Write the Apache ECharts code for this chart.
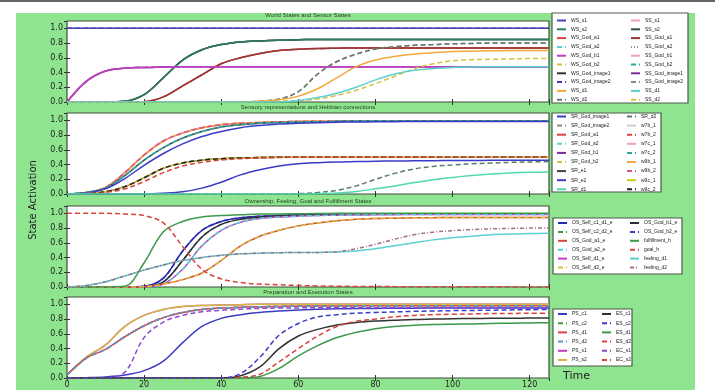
<!DOCTYPE html>
<html><head><meta charset="utf-8">
<script src="https://cdn.jsdelivr.net/npm/echarts@6/dist/echarts.min.js"></script>
<style>html,body{margin:0;padding:0;background:#fff}#c{width:715px;height:390px}</style>
</head><body><div id="c"></div>
<script>
// time samples
const T = [0,5,10,15,20,25,30,35,40,45,50,55,60,65,70,75,80,85,90,95,100,105,110,115,120,125];
const xTicks = [0,20,40,60,80,100,120];
const yTicks = [0.0,0.2,0.4,0.6,0.8,1.0];

// Panel 1: World States and Sensor States
const p1One      = [1,1,1,1,1,1,1,1,1,1,1,1,1,1,1,1,1,1,1,1,1,1,1,1,1,1];
const p1Magenta  = [0,0.28,0.42,0.46,0.47,0.475,0.48,0.48,0.48,0.48,0.48,0.48,0.48,0.48,0.48,0.48,0.48,0.48,0.48,0.48,0.48,0.48,0.48,0.48,0.48,0.48];
const p1Green    = [0,0,0,0.01,0.1,0.33,0.57,0.71,0.78,0.815,0.83,0.84,0.845,0.85,0.85,0.85,0.85,0.85,0.85,0.85,0.85,0.85,0.85,0.85,0.85,0.85];
const p1Red      = [0,0,0,0,0.005,0.07,0.22,0.37,0.52,0.6,0.66,0.7,0.715,0.725,0.73,0.735,0.735,0.735,0.735,0.735,0.735,0.735,0.735,0.735,0.735,0.735];
const p1GreyDash = [0,0,0,0,0,0,0,0,0,0,0.01,0.04,0.14,0.38,0.55,0.65,0.72,0.75,0.77,0.78,0.79,0.795,0.8,0.8,0.8,0.8];
const p1Orange   = [0,0,0,0,0,0,0,0,0,0,0.01,0.03,0.08,0.18,0.33,0.48,0.57,0.62,0.65,0.67,0.685,0.69,0.695,0.7,0.7,0.7];
const p1YelDash  = [0,0,0,0,0,0,0,0,0,0,0,0.01,0.02,0.04,0.09,0.16,0.25,0.35,0.45,0.52,0.56,0.575,0.58,0.585,0.59,0.59];
const p1Cyan     = [0,0,0,0,0,0,0,0,0,0,0,0,0.02,0.06,0.12,0.2,0.3,0.38,0.43,0.455,0.47,0.475,0.48,0.48,0.48,0.48];

// Panel 2: Sensory representations and Hebbian connections
const p2Top      = [0,0.02,0.09,0.29,0.53,0.72,0.83,0.9,0.94,0.96,0.97,0.98,0.985,0.988,0.99,0.99,0.99,0.99,0.99,0.99,0.99,0.99,0.99,0.99,0.99,0.99];
const p2Mid      = [0,0.02,0.08,0.25,0.46,0.63,0.76,0.85,0.91,0.94,0.96,0.97,0.975,0.98,0.985,0.99,0.99,0.99,0.99,0.99,0.99,0.99,0.99,0.99,0.99,0.99];
const p2BlueTop  = [0,0.015,0.07,0.21,0.39,0.55,0.68,0.78,0.85,0.9,0.93,0.95,0.96,0.968,0.975,0.978,0.98,0.982,0.984,0.985,0.985,0.985,0.985,0.985,0.985,0.985];
const p2Half     = [0,0.005,0.03,0.1,0.22,0.35,0.42,0.46,0.48,0.49,0.495,0.5,0.5,0.5,0.5,0.5,0.5,0.5,0.5,0.5,0.5,0.5,0.5,0.5,0.5,0.5];
const p2HalfRed  = [0,0.003,0.02,0.07,0.17,0.29,0.38,0.43,0.46,0.48,0.49,0.495,0.5,0.5,0.5,0.5,0.5,0.5,0.5,0.5,0.5,0.5,0.5,0.5,0.5,0.5];
const p2BlueLate = [0,0,0,0,0,0.01,0.03,0.08,0.16,0.26,0.33,0.38,0.41,0.425,0.435,0.44,0.445,0.448,0.45,0.452,0.455,0.456,0.457,0.458,0.459,0.46];
const p2GreyLate = [0,0,0,0,0,0,0,0,0,0,0,0,0.005,0.02,0.05,0.11,0.2,0.28,0.34,0.375,0.395,0.41,0.42,0.43,0.435,0.44];
const p2CyanLate = [0,0,0,0,0,0,0,0,0,0,0,0,0,0.005,0.015,0.035,0.07,0.11,0.155,0.195,0.225,0.25,0.27,0.285,0.295,0.3];

// Panel 3: Ownership, Feeling, Goal and Fulfillment States
const p3A       = [0,0,0,0,0.01,0.12,0.49,0.77,0.89,0.94,0.96,0.97,0.978,0.982,0.985,0.988,0.99,0.99,0.99,0.99,0.99,0.99,0.99,0.99,0.99,0.99];
const p3B       = [0,0,0,0,0.005,0.07,0.36,0.68,0.85,0.92,0.95,0.965,0.975,0.98,0.985,0.988,0.99,0.99,0.99,0.99,0.99,0.99,0.99,0.99,0.99,0.99];
const p3C       = [0,0,0,0,0.003,0.04,0.24,0.56,0.77,0.88,0.93,0.95,0.962,0.97,0.975,0.978,0.98,0.982,0.985,0.985,0.985,0.985,0.985,0.985,0.985,0.985];
const p3Late    = [0,0,0,0,0.005,0.04,0.1,0.19,0.36,0.56,0.69,0.77,0.83,0.87,0.9,0.92,0.93,0.935,0.94,0.942,0.945,0.945,0.945,0.945,0.945,0.945];
const p3Goal    = [1,1,1,0.99,0.97,0.87,0.55,0.24,0.11,0.06,0.04,0.03,0.02,0.015,0.01,0.008,0.006,0.005,0.004,0.003,0.003,0.002,0.002,0.002,0.001,0.001];
const p3Fulfill = [0,0,0,0.01,0.33,0.75,0.89,0.95,0.97,0.98,0.99,0.993,0.995,0.997,1,1,1,1,1,1,1,1,1,1,1,1];
const p3FeelD1  = [0,0.02,0.07,0.15,0.23,0.3,0.36,0.4,0.43,0.45,0.46,0.465,0.47,0.47,0.475,0.49,0.52,0.56,0.6,0.64,0.67,0.69,0.71,0.72,0.725,0.73];
const p3FeelD2  = [0,0.02,0.07,0.15,0.23,0.3,0.36,0.4,0.43,0.45,0.46,0.465,0.47,0.47,0.48,0.52,0.58,0.65,0.71,0.745,0.765,0.78,0.79,0.795,0.8,0.8];

// Panel 4: Preparation and Execution States
const p4Yellow   = [0.04,0.28,0.45,0.7,0.85,0.93,0.97,0.985,0.99,0.995,1,1,1,1,1,1,1,1,1,1,1,1,1,1,1,1];
const p4Red      = [0.04,0.27,0.39,0.56,0.71,0.82,0.89,0.93,0.95,0.96,0.967,0.972,0.975,0.977,0.978,0.98,0.98,0.98,0.98,0.98,0.98,0.98,0.98,0.98,0.98,0.98];
const p4Mag      = [0,0,0.005,0.08,0.55,0.76,0.85,0.9,0.92,0.935,0.945,0.95,0.952,0.955,0.955,0.955,0.955,0.955,0.955,0.955,0.955,0.955,0.955,0.955,0.955,0.955];
const p4Blue     = [0,0.005,0.015,0.04,0.1,0.23,0.48,0.7,0.81,0.86,0.89,0.91,0.925,0.933,0.94,0.943,0.945,0.947,0.948,0.95,0.95,0.95,0.95,0.95,0.95,0.95];
const p4BlueDash = [0,0,0,0,0,0,0,0,0,0.06,0.28,0.58,0.74,0.83,0.86,0.88,0.89,0.897,0.905,0.91,0.915,0.918,0.92,0.925,0.928,0.93];
const p4Black    = [0,0,0,0,0,0,0,0,0,0.03,0.15,0.4,0.57,0.66,0.72,0.755,0.775,0.785,0.795,0.8,0.805,0.808,0.81,0.812,0.814,0.815];
const p4RedDash  = [0,0,0,0,0,0,0,0,0,0.01,0.05,0.22,0.4,0.57,0.7,0.77,0.8,0.83,0.85,0.86,0.865,0.87,0.875,0.877,0.879,0.88];
const p4Green    = [0,0,0,0,0,0,0,0,0,0,0.02,0.13,0.3,0.44,0.55,0.62,0.67,0.7,0.715,0.725,0.73,0.735,0.74,0.745,0.748,0.75];

const titles = ['World States and Sensor States','Sensory representations and Hebbian connections','Ownership, Feeling, Goal and Fulfillment States','Preparation and Execution States'];
const legendCols = [
 [['WS_s1','WS_s2','WS_God_a1','WS_God_a2','WS_God_b1','WS_God_b2','WS_God_image1','WS_God_image2','WS_d1','WS_d2'],
  ['SS_s1','SS_s2','SS_God_a1','SS_God_a2','SS_God_b1','SS_God_b2','SS_God_image1','SS_God_image2','SS_d1','SS_d2']],
 [['SR_God_image1','SR_God_image2','SR_God_a1','SR_God_a2','SR_God_b1','SR_God_b2','SR_e1','SR_e2','SR_d1'],
  ['SR_d2','w7b_1','w7b_2','w7c_1','w7c_2','w9b_1','w9b_2','w9c_1','w9c_2']],
 [['OS_Self_c1_d1_e','OS_Self_c2_d2_e','OS_God_a1_e','OS_God_a2_e','OS_Self_d1_e','OS_Self_d2_e'],
  ['OS_God_b1_e','OS_God_b2_e','fulfillment_h','goal_h','feeling_d1','feeling_d2']],
 [['PS_c1','PS_c2','PS_d1','PS_d2','PS_s1','PS_s2'],
  ['ES_c1','ES_c2','ES_d1','ES_d2','EC_s1','EC_s2']]
];

const C = {blue:'#3b3bc8',green:'#3a9a3a',red:'#d9443f',cyan:'#5ccfcf',magenta:'#c43cc4',yellow:'#d6c23a',
  black:'#333333',orange:'#f2a93b',pink:'#f0a0b8',grey:'#8a8a8a',dgreen:'#2e7d5b',dred:'#9c3535',teal:'#2aa89a',purple:'#7b2c9c'};
const D = [5,3];
// draw order: [name, panel, data, color, lineType]
const defs = [
 ['SS_s1',0,p1One,C.pink,'solid'],['WS_God_image2',0,p1One,C.blue,D],['WS_s1',0,p1One,'#4545b8','solid'],
 ['WS_God_image1',0,p1Green,'#333','solid'],['SS_s2',0,p1Green,'#2f4f45','solid'],['WS_s2',0,p1Green,C.dgreen,'solid'],
 ['WS_God_a2',0,p1Red,C.cyan,D],['SS_God_a2',0,p1Red,C.grey,[1,2]],['WS_God_a1',0,p1Red,C.red,'solid'],['SS_God_a1',0,p1Red,C.dred,'solid'],
 ['WS_God_b2',0,p1Magenta,C.yellow,D],['SS_God_b2',0,p1Magenta,C.teal,D],['SS_God_b1',0,p1Magenta,C.pink,'solid'],
 ['SS_God_image1',0,p1Magenta,C.purple,'solid'],['WS_God_b1',0,p1Magenta,C.magenta,'solid'],
 ['SS_God_image2',0,p1GreyDash,C.grey,D],['WS_d2',0,p1GreyDash,'#6b7b6b',D],
 ['WS_d1',0,p1Orange,C.orange,'solid'],['SS_d2',0,p1YelDash,C.yellow,D],['SS_d1',0,p1Cyan,C.cyan,'solid'],

 ['SR_God_a1',1,p2Top,C.red,'solid'],['w7b_1',1,p2Top,'#cccccc','solid'],['w7c_1',1,p2Top,C.pink,'solid'],
 ['w9b_1',1,p2Top,C.orange,'solid'],['w9b_2',1,p2Top,'#e0508a',D],
 ['SR_e1',1,p2Mid,'#444','solid'],['SR_God_a2',1,p2Mid,C.cyan,D],['w7c_2',1,p2Mid,C.teal,D],
 ['SR_God_image1',1,p2BlueTop,C.blue,'solid'],
 ['SR_God_b1',1,p2Half,C.purple,'solid'],['SR_God_image2',1,p2Half,C.grey,D],['w9c_1',1,p2Half,'#c8c820','solid'],
 ['SR_God_b2',1,p2Half,C.yellow,D],['w9c_2',1,p2Half,'#222',D],['w7b_2',1,p2HalfRed,C.red,D],
 ['SR_e2',1,p2BlueLate,C.blue,'solid'],['SR_d2',1,p2GreyLate,'#5a7a6a',D],['SR_d1',1,p2CyanLate,'#50d8b0','solid'],

 ['OS_God_b2_e',2,p3A,C.blue,D],['OS_Self_c1_d1_e',2,p3A,'#2b2bb0','solid'],
 ['OS_Self_c2_d2_e',2,p3B,C.green,D],['OS_God_b1_e',2,p3B,'#2a2a40','solid'],
 ['OS_Self_d1_e',2,p3C,C.magenta,'solid'],['OS_God_a2_e',2,p3C,C.cyan,D],
 ['OS_God_a1_e',2,p3Late,C.red,'solid'],['OS_Self_d2_e',2,p3Late,C.yellow,D],
 ['fulfillment_h',2,p3Fulfill,'#3a9a4a','solid'],['goal_h',2,p3Goal,C.red,D],
 ['feeling_d1',2,p3FeelD1,C.cyan,'solid'],['feeling_d2',2,p3FeelD2,'#a0708a',[4,2,1,2]],

 ['PS_s1',3,p4Yellow,C.magenta,'solid'],['PS_s2',3,p4Yellow,'#d8b840','solid'],
 ['PS_c2',3,p4Red,C.green,D],['PS_d1',3,p4Red,C.red,'solid'],['EC_s2',3,p4Red,C.red,D],['PS_d2',3,p4Red,'#5a9ad8',D],
 ['PS_c1',3,p4Blue,C.blue,'solid'],['EC_s1',3,p4Mag,'#8a4ad0',D],
 ['ES_d1',3,p4Green,'#3a9a4a','solid'],['ES_c1',3,p4Black,'#333','solid'],
 ['ES_d2',3,p4RedDash,C.red,D],['ES_c2',3,p4BlueDash,C.blue,D]
];

const gridTops = [21,113,206,297];
const PH = 81, GL = 67, GR = 166;
const grids = gridTops.map(t => ({left:GL, right:GR, top:t, height:PH, show:true, backgroundColor:'#fff', borderColor:'#3d4d3d', borderWidth:1.2}));
const xAxes = [], yAxes = [];
gridTops.forEach((t,i) => {
  const base = {type:'value', min:0, max:125, interval:20, gridIndex:i, splitLine:{show:false}, axisLine:{show:false},
    axisTick:{show:true, inside:true, length:3, lineStyle:{color:'#333'}}};
  xAxes.push(Object.assign({}, base, {position:'bottom', axisLabel:{show:i===3, showMaxLabel:false, fontSize:8, color:'#222', margin:3, fontFamily:'DejaVu Sans'}}));
  xAxes.push(Object.assign({}, base, {position:'top', axisLabel:{show:false}}));
  const yb = {type:'value', min:0, max:1.1, interval:0.2, gridIndex:i, splitLine:{show:false}, axisLine:{show:false},
    axisTick:{show:true, inside:true, length:3, lineStyle:{color:'#333'}}};
  yAxes.push(Object.assign({}, yb, {position:'left', axisLabel:{show:true, showMaxLabel:false, fontSize:8, color:'#222', margin:4, fontFamily:'DejaVu Sans', formatter:v=>v.toFixed(1)}}));
  yAxes.push(Object.assign({}, yb, {position:'right', axisLabel:{show:false}}));
});

const series = defs.map(d => ({
  name:d[0], type:'line', xAxisIndex:d[1]*2, yAxisIndex:d[1]*2, showSymbol:false, symbol:'none',
  smooth:0.35,
  data:T.map((t,k)=>[t,d[2][k]]),
  lineStyle:{color:d[3], width:1.5, type:d[4]}, itemStyle:{color:d[3]}, emphasis:{disabled:true}
}));

// legend layout
const legBoxes = [
  {x:552,y:13,w:136,h:90, top:17.5, gap:2.8, c1:556, c2:630},
  {x:552,y:113,w:109,h:79, top:113.5, gap:3.1, c1:556, c2:626},
  {x:553,y:218,w:129,h:56, top:220, gap:2.9, c1:557, c2:629},
  {x:553,y:309,w:79,h:57, top:311, gap:3.2, c1:557, c2:601}
];
const legends = [];
legBoxes.forEach((b,i) => {
  [b.c1,b.c2].forEach((lx,j) => {
    legends.push({orient:'vertical', left:lx, top:b.top, padding:0, itemGap:b.gap, itemWidth:9, itemHeight:1,
      selectedMode:false, data:legendCols[i][j], itemStyle:{opacity:0},
      textStyle:{fontSize:5, lineHeight:6, color:'#222', fontFamily:'Liberation Sans'}});
  });
});

const graphic = [
  {type:'rect', z:-10, shape:{x:16,y:13,width:679,height:377}, style:{fill:'#8fe58f'}},
  {type:'rect', z:-10, shape:{x:0,y:0,width:715,height:2}, style:{fill:'#666'}},
  {type:'text', z:5, x:33, y:200, rotation:Math.PI/2, style:{text:'State Activation', fontSize:10, fontFamily:'DejaVu Sans', fill:'#222', textAlign:'center', textVerticalAlign:'middle'}},
  {type:'text', z:5, x:563, y:376, style:{text:'Time', fontSize:11, fontFamily:'DejaVu Sans', fill:'#222', textAlign:'left', textVerticalAlign:'middle'}}
];
const titleY = [15.5,107,201,292];
titles.forEach((t,i) => graphic.push({type:'text', z:5, x:308, y:titleY[i], style:{text:t, fontSize:6, fontFamily:'Liberation Sans', fill:'#1f3a1f', textAlign:'center', textVerticalAlign:'middle'}}));
legBoxes.forEach(b => graphic.push({type:'rect', z:1, shape:{x:b.x,y:b.y,width:b.w,height:b.h}, style:{fill:'#fff', stroke:'#4a5a4a', lineWidth:1.2}}));

const chart = echarts.init(document.getElementById('c'), null, {renderer:'canvas'});
chart.setOption({animation:false, backgroundColor:'#fff', grid:grids, xAxis:xAxes, yAxis:yAxes, legend:legends, graphic:graphic, series:series});
</script></body></html>
